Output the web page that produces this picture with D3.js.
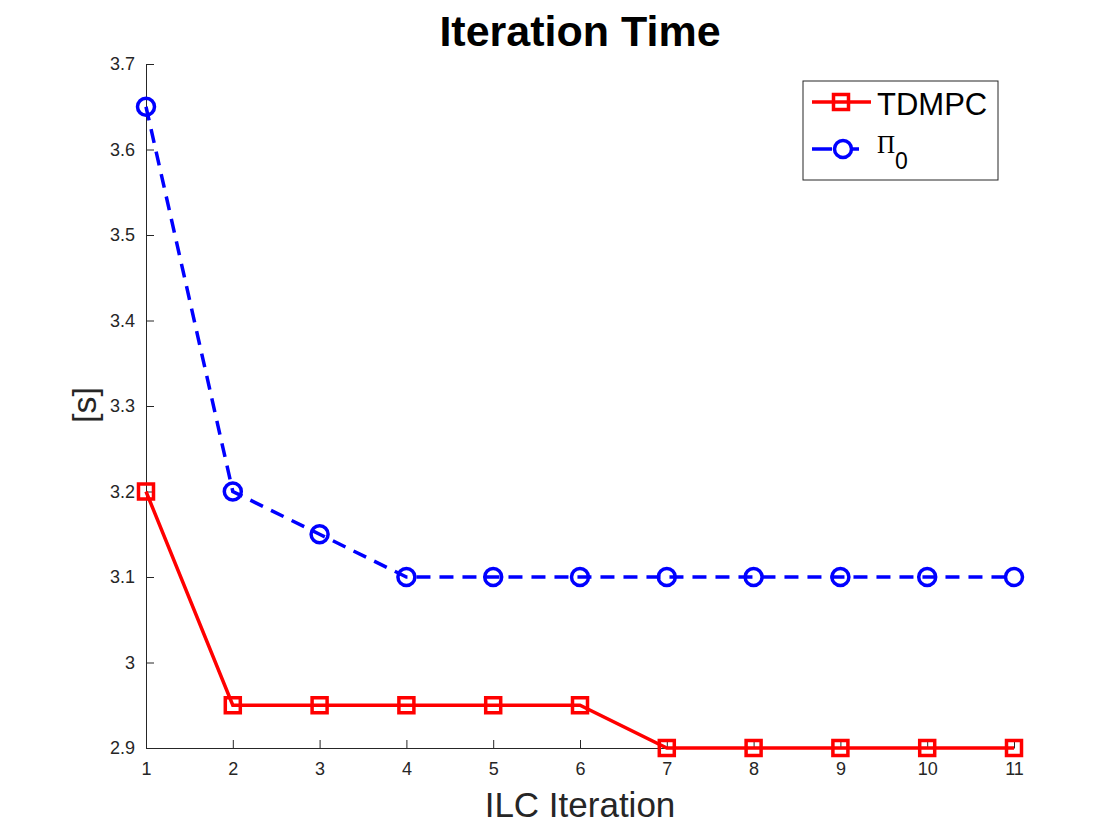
<!DOCTYPE html>
<html>
<head>
<meta charset="UTF-8">
<title>Iteration Time</title>
<script src="https://d3js.org/d3.v7.min.js"></script>
<style>
  body { margin: 0; background: #fff; }
  .tick text { font: 18px "Liberation Sans", Arial, sans-serif; fill: #262626; }
  .domain, .tick line { stroke: #262626; }
</style>
</head>
<body>
<div id="chart"></div>
<script>
const iterations = [1, 2, 3, 4, 5, 6, 7, 8, 9, 10, 11];
const tdmpc = [3.2, 2.95, 2.95, 2.95, 2.95, 2.95, 2.9, 2.9, 2.9, 2.9, 2.9];
const pi0 = [3.65, 3.2, 3.15, 3.1, 3.1, 3.1, 3.1, 3.1, 3.1, 3.1, 3.1];
const yTicks = [2.9, 3, 3.1, 3.2, 3.3, 3.4, 3.5, 3.6, 3.7];

const W = 1120, H = 840;
const margin = { top: 64, right: 106, bottom: 92, left: 146 };
const width = W - margin.left - margin.right,
      height = H - margin.top - margin.bottom;

const svg = d3.select("#chart").append("svg")
  .attr("width", W).attr("height", H);

const g = svg.append("g")
  .attr("transform", `translate(${margin.left},${margin.top})`);

const x = d3.scaleLinear().domain([1, 11]).range([0, width]);
const y = d3.scaleLinear().domain([2.9, 3.7]).range([height, 0]);

// axes, ticks pointing inward
g.append("g")
  .attr("transform", `translate(0,${height})`)
  .call(d3.axisBottom(x).tickValues(iterations).tickFormat(d3.format("d"))
    .tickSizeInner(-8).tickSizeOuter(0).tickPadding(6))
  .call(a => a.selectAll(".tick text").attr("y", 27).attr("dy", 0));

g.append("g")
  .call(d3.axisLeft(y).tickValues(yTicks).tickFormat(d => String(+d.toFixed(1)))
    .tickSizeInner(-8).tickSizeOuter(0).tickPadding(11));

g.selectAll(".domain").attr("stroke-width", 1);

const line = d3.line().x((d, i) => x(iterations[i])).y(d => y(d));

// Pi_0 dashed blue
g.append("path").datum(pi0)
  .attr("d", line)
  .attr("fill", "none").attr("stroke", "#0000ff")
  .attr("stroke-width", 3.5).attr("stroke-dasharray", "14,9");

g.selectAll(".pt-pi").data(pi0).enter().append("circle")
  .attr("cx", (d, i) => x(iterations[i])).attr("cy", d => y(d))
  .attr("r", 8.5).attr("fill", "none")
  .attr("stroke", "#0000ff").attr("stroke-width", 3.5);

// TDMPC solid red
g.append("path").datum(tdmpc)
  .attr("d", line)
  .attr("fill", "none").attr("stroke", "#ff0000")
  .attr("stroke-width", 3.5);

const sq = 15;
g.selectAll(".pt-td").data(tdmpc).enter().append("rect")
  .attr("x", (d, i) => x(iterations[i]) - sq / 2).attr("y", d => y(d) - sq / 2)
  .attr("width", sq).attr("height", sq).attr("fill", "none")
  .attr("stroke", "#ff0000").attr("stroke-width", 3.5);

// title & labels
svg.append("text")
  .attr("x", 580).attr("y", 46)
  .attr("text-anchor", "middle")
  .style("font", "bold 43px 'Liberation Sans', Arial, sans-serif")
  .text("Iteration Time");

svg.append("text")
  .attr("x", 580).attr("y", 817)
  .attr("text-anchor", "middle")
  .style("font", "35px 'Liberation Sans', Arial, sans-serif").attr("fill", "#262626")
  .text("ILC Iteration");

svg.append("text")
  .attr("transform", "translate(96,405) rotate(-90)")
  .attr("text-anchor", "middle")
  .style("font", "34px 'Liberation Sans', Arial, sans-serif").attr("fill", "#262626")
  .text("[s]");

// legend
const lg = svg.append("g").attr("transform", "translate(803,81)");
lg.append("rect").attr("width", 195).attr("height", 99)
  .attr("fill", "#fff").attr("stroke", "#262626").attr("stroke-width", 1);

lg.append("line").attr("x1", 9).attr("x2", 68).attr("y1", 21).attr("y2", 21)
  .attr("stroke", "#ff0000").attr("stroke-width", 3.5);
lg.append("rect").attr("x", 38 - sq / 2).attr("y", 21 - sq / 2)
  .attr("width", sq).attr("height", sq).attr("fill", "none")
  .attr("stroke", "#ff0000").attr("stroke-width", 3.5);
lg.append("text").attr("x", 74).attr("y", 34)
  .style("font", "31px 'Liberation Sans', Arial, sans-serif")
  .text("TDMPC");

lg.append("line").attr("x1", 9).attr("x2", 56).attr("y1", 68).attr("y2", 68)
  .attr("stroke", "#0000ff").attr("stroke-width", 3.5).attr("stroke-dasharray", "20,18,9");
lg.append("circle").attr("cx", 40).attr("cy", 68).attr("r", 8.5)
  .attr("fill", "none").attr("stroke", "#0000ff").attr("stroke-width", 3.5);
const pt = lg.append("text").attr("x", 74).attr("y", 72);
pt.append("tspan").style("font", "25px 'Liberation Serif', 'Times New Roman', serif").text("Π");
pt.append("tspan").attr("dy", 16)
  .style("font", "23px 'Liberation Sans', Arial, sans-serif").text("0");
</script>
</body>
</html>
